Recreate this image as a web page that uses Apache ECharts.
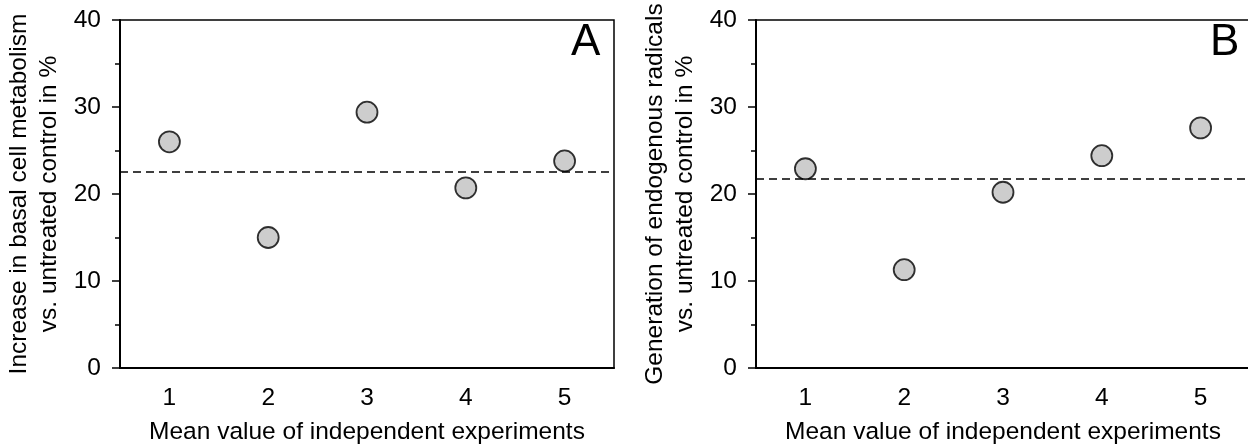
<!DOCTYPE html>
<html>
<head>
<meta charset="utf-8">
<script src="https://cdn.jsdelivr.net/npm/echarts@6/dist/echarts.min.js"></script>
<style>html,body{margin:0;padding:0;background:#fff;}#c{width:1248px;height:447px;}</style>
</head>
<body>
<div id="c"></div>
<script>
const categories = ['1', '2', '3', '4', '5'];
const valuesA = [26.0, 15.0, 29.4, 20.7, 23.8];
const valuesB = [22.9, 11.3, 20.2, 24.4, 27.6];
const meanA = 22.6;
const meanB = 21.7;
const yTicks = [0, 10, 20, 30, 40];
const panelLabels = ['A', 'B'];
const xTitle = 'Mean value of independent experiments';
const yTitleA = 'Increase in basal cell metabolism\nvs. untreated control in %';
const yTitleB = 'Generation of endogenous radicals\nvs. untreated control in %';

const FONT = "'Liberation Sans', Arial, sans-serif";
const FS = 24.5;
const grids = [
  {left: 120, top: 20, width: 494, height: 348},
  {left: 756, top: 20, width: 494, height: 348}
];

function xAxisFor(i) {
  return {
    type: 'category', gridIndex: i, data: categories, boundaryGap: true,
    name: xTitle, nameLocation: 'middle', nameGap: 52,
    nameTextStyle: {fontFamily: FONT, fontSize: FS, color: '#000'},
    axisLine: {lineStyle: {color: '#000', width: 2}},
    axisTick: {alignWithLabel: true, length: 5, lineStyle: {color: '#000', width: 1.5}},
    axisLabel: {fontFamily: FONT, fontSize: FS, color: '#000', margin: 18},
    splitLine: {show: false}
  };
}
function yAxisFor(i, title) {
  return {
    type: 'value', gridIndex: i, min: yTicks[0], max: yTicks[yTicks.length - 1], interval: 10,
    name: title, nameLocation: 'middle', nameGap: 56, nameRotate: 90,
    nameTextStyle: {fontFamily: FONT, fontSize: FS, color: '#000', lineHeight: 30, align: 'center'},
    axisLine: {show: true, lineStyle: {color: '#000', width: 2}},
    axisTick: {show: true, length: 8, lineStyle: {color: '#000', width: 1.5}},
    minorTick: {show: true, splitNumber: 2, length: 5, lineStyle: {color: '#000', width: 1.5}},
    axisLabel: {fontFamily: FONT, fontSize: FS, color: '#000', margin: 19},
    splitLine: {show: false}
  };
}
function seriesFor(i, vals, mean) {
  return {
    type: 'scatter', xAxisIndex: i, yAxisIndex: i, data: vals,
    symbol: 'circle', symbolSize: 21,
    itemStyle: {color: '#c0c0c0', borderColor: '#000', borderWidth: 1.8},
    emphasis: {disabled: true},
    markLine: {
      silent: true, symbol: 'none', label: {show: false},
      lineStyle: {color: '#000', type: [8, 5], width: 1.5},
      data: [{yAxis: mean}]
    }
  };
}

const chart = echarts.init(document.getElementById('c'), null, {renderer: 'canvas'});
chart.setOption({
  animation: false,
  backgroundColor: '#fff',
  title: [
    {text: panelLabels[0], left: 571, top: 21, textStyle: {fontFamily: FONT, fontSize: 44, fontWeight: 'normal', color: '#000'}, padding: 0},
    {text: panelLabels[1], left: 1210, top: 21, textStyle: {fontFamily: FONT, fontSize: 44, fontWeight: 'normal', color: '#000'}, padding: 0}
  ],
  grid: grids.map(g => Object.assign({show: true, containLabel: false, outerBoundsMode: 'none', borderColor: '#000', borderWidth: 1.5, backgroundColor: 'transparent'}, g)),
  xAxis: [xAxisFor(0), xAxisFor(1)],
  yAxis: [yAxisFor(0, yTitleA), yAxisFor(1, yTitleB)],
  series: [seriesFor(0, valuesA, meanA), seriesFor(1, valuesB, meanB)]
});
</script>
</body>
</html>
